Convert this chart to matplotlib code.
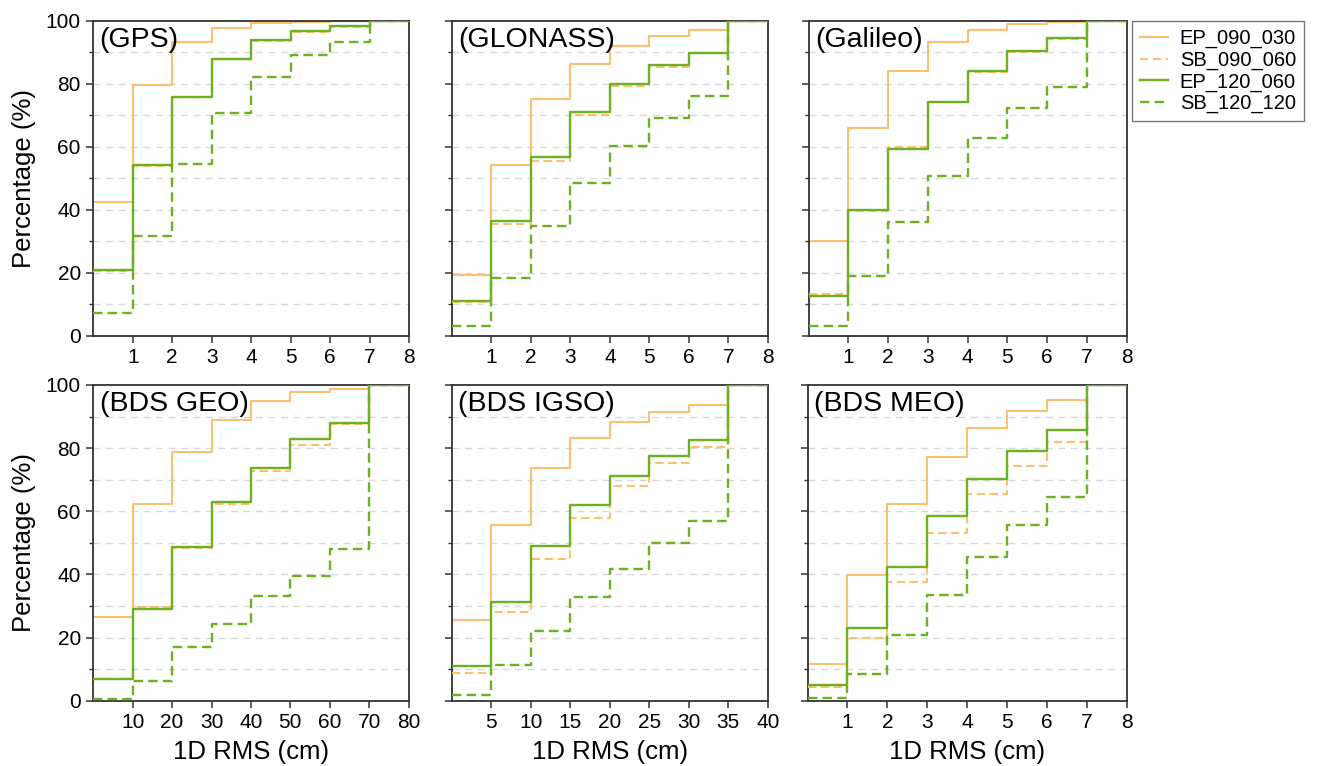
import matplotlib
matplotlib.use("Agg")
import matplotlib.pyplot as plt
from matplotlib.ticker import MultipleLocator, FixedLocator
import numpy as np

plt.rcParams['font.family'] = ['Liberation Sans', 'DejaVu Sans']

# ---------------- data (cumulative percentage per bin) ----------------
series_names = ["EP_090_030", "SB_090_060", "EP_120_060", "SB_120_120"]

gps_ep_090_030 = [42.6, 79.6, 93.2, 97.6, 99.2, 99.7, 99.9, 100]
gps_sb_090_060 = [20.5, 54.0, 75.8, 87.9, 93.6, 96.4, 97.9, 100]
gps_ep_120_060 = [20.7, 54.3, 75.9, 88.0, 94.0, 96.8, 98.4, 100]
gps_sb_120_120 = [7.3, 31.7, 54.4, 70.6, 82.0, 89.1, 93.2, 100]

glo_ep_090_030 = [19.3, 54.1, 75.1, 86.3, 92.1, 95.1, 96.9, 100]
glo_sb_090_060 = [10.7, 35.4, 55.6, 70.1, 79.2, 85.4, 89.6, 100]
glo_ep_120_060 = [11.0, 36.5, 56.7, 71.0, 79.9, 86.0, 89.8, 100]
glo_sb_120_120 = [3.2, 18.3, 34.9, 48.6, 60.2, 69.2, 76.2, 100]

gal_ep_090_030 = [30.1, 66.0, 84.1, 93.1, 97.0, 98.8, 99.5, 100]
gal_sb_090_060 = [13.3, 39.5, 60.0, 74.2, 83.7, 90.1, 94.1, 100]
gal_ep_120_060 = [12.5, 39.8, 59.3, 74.2, 84.0, 90.5, 94.4, 100]
gal_sb_120_120 = [3.2, 18.8, 36.2, 50.8, 62.8, 72.2, 78.8, 100]

geo_ep_090_030 = [26.5, 62.3, 78.9, 88.9, 94.9, 97.7, 98.8, 100]
geo_sb_090_060 = [7.0, 29.6, 48.3, 62.3, 72.8, 81.1, 87.5, 100]
geo_ep_120_060 = [6.8, 28.9, 48.8, 63.0, 73.8, 82.9, 88.1, 100]
geo_sb_120_120 = [0.4, 6.1, 17.0, 24.2, 33.1, 39.6, 47.9, 100]

igso_ep_090_030 = [25.6, 55.8, 73.8, 83.3, 88.4, 91.5, 93.8, 100]
igso_sb_090_060 = [8.7, 28.1, 44.9, 58.0, 68.0, 75.2, 80.5, 100]
igso_ep_120_060 = [10.9, 31.4, 49.1, 62.1, 71.1, 77.6, 82.6, 100]
igso_sb_120_120 = [1.9, 11.2, 22.0, 32.7, 41.7, 49.9, 57.0, 100]

meo_ep_090_030 = [11.6, 39.8, 62.4, 77.1, 86.5, 91.7, 95.1, 100]
meo_sb_090_060 = [4.2, 20.0, 37.7, 53.0, 65.6, 74.3, 81.8, 100]
meo_ep_120_060 = [5.1, 23.0, 42.3, 58.4, 70.2, 79.0, 85.7, 100]
meo_sb_120_120 = [0.8, 8.6, 20.9, 33.6, 45.6, 55.8, 64.6, 100]

panel_titles = ["(GPS)", "(GLONASS)", "(Galileo)", "(BDS GEO)", "(BDS IGSO)", "(BDS MEO)"]
bin_edges_small = [0, 1, 2, 3, 4, 5, 6, 7, 8]
bin_edges_geo = [0, 10, 20, 30, 40, 50, 60, 70, 80]
bin_edges_igso = [0, 5, 10, 15, 20, 25, 30, 35, 40]

panels = [
    (bin_edges_small, [gps_ep_090_030, gps_sb_090_060, gps_ep_120_060, gps_sb_120_120]),
    (bin_edges_small, [glo_ep_090_030, glo_sb_090_060, glo_ep_120_060, glo_sb_120_120]),
    (bin_edges_small, [gal_ep_090_030, gal_sb_090_060, gal_ep_120_060, gal_sb_120_120]),
    (bin_edges_geo, [geo_ep_090_030, geo_sb_090_060, geo_ep_120_060, geo_sb_120_120]),
    (bin_edges_igso, [igso_ep_090_030, igso_sb_090_060, igso_ep_120_060, igso_sb_120_120]),
    (bin_edges_small, [meo_ep_090_030, meo_sb_090_060, meo_ep_120_060, meo_sb_120_120]),
]

# ---------------- styling ----------------
orange = "#FDBF72"
green = "#6DB121"
styles = [
    dict(color=orange, lw=1.5, ls="-"),
    dict(color=orange, lw=1.5, ls=(0, (4, 2.2))),
    dict(color=green, lw=1.7, ls="-"),
    dict(color=green, lw=1.7, ls=(0, (4, 2.2))),
]

W, H = 1317, 766
fig = plt.figure(figsize=(W / 100, H / 100), dpi=100)

def frac(left, top, right, bottom):
    return [left / W, 1 - bottom / H, (right - left) / W, (bottom - top) / H]

boxes = [
    frac(93.3, 20.7, 409, 335.7),
    frac(451.7, 20.7, 768, 335.7),
    frac(808.5, 20.7, 1126.7, 335.7),
    frac(93.3, 385, 408.5, 700.7),
    frac(451.7, 385, 767.7, 700.7),
    frac(807.5, 385, 1127, 700.7),
]

spine_c = "#333333"
handles = []
for i, (box, (edges, vals), title) in enumerate(zip(boxes, panels, panel_titles)):
    ax = fig.add_axes(box)
    for yv in range(10, 100, 10):
        ax.axhline(yv, color="#d9d9d9", lw=1.0, ls=(0, (5, 4)), zorder=0)
    for j, (v, st) in enumerate(zip(vals, styles)):
        y = list(v) + [v[-1]]
        ln, = ax.step(edges, y, where="post", label=series_names[j], zorder=2 + j, **st)
        if i == 0:
            handles.append(ln)
    ax.set_xlim(edges[0], edges[-1])
    ax.set_ylim(0, 100)
    ax.xaxis.set_major_locator(FixedLocator(edges[1:]))
    ax.yaxis.set_major_locator(MultipleLocator(20))
    ax.yaxis.set_minor_locator(MultipleLocator(10))
    ax.tick_params(axis="both", which="major", direction="out", length=5, width=1.1,
                   color=spine_c, labelsize=15, pad=4)
    ax.tick_params(axis="y", which="minor", direction="out", length=3, width=1.0, color=spine_c)
    ax.tick_params(axis="x", which="minor", bottom=False)
    for s in ax.spines.values():
        s.set_color(spine_c)
        s.set_linewidth(1.3)
    if i % 3 != 0:
        ax.set_yticklabels([])
    else:
        ax.set_ylabel("Percentage (%)", fontsize=18.5)
        ax.yaxis.set_label_coords((36 - box[0] * W) / (box[2] * W), 0.5)
    if i >= 3:
        ax.set_xlabel("1D RMS (cm)", fontsize=18.5)
        ax.xaxis.set_label_coords(0.5, -0.125)
    ax.text(0.02, 0.98, title, transform=ax.transAxes, ha="left", va="top",
            fontsize=20.5, zorder=10)

leg = fig.legend(handles=handles, labels=series_names, loc="upper left",
                 bbox_to_anchor=(1131.5 / W, 1 - 21 / H), fontsize=14.5,
                 frameon=True, fancybox=False, edgecolor="#555555",
                 handlelength=1.4, handletextpad=0.6, labelspacing=0.12,
                 borderpad=0.4, borderaxespad=0)
leg.get_frame().set_linewidth(1.0)

fig.savefig("out.png", dpi=100, facecolor="white")
